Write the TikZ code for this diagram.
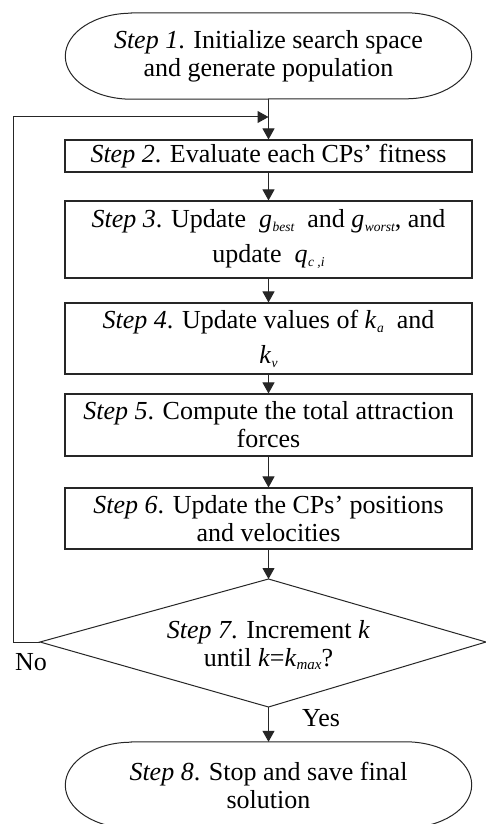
\documentclass[tikz,border=0pt]{standalone}
\usepackage{fontspec}
\setmainfont{Liberation Serif}
\usetikzlibrary{arrows.meta}

% italic variable with a small italic subscript
\newcommand\isub[2]{\textit{#1}\kern0.4pt\raisebox{-4pt}{\fontsize{13.5}{13.5}\selectfont\itshape #2}}

% terminal outline: flat top and bottom with elliptical ends
\newcommand\termoutline[1]{%
  \draw[edge] ([xshift=66pt]#1.north west) -- ([xshift=-66pt]#1.north east)
    arc[start angle=90, end angle=-90, x radius=66pt, y radius=43pt]
    -- ([xshift=66pt]#1.south west)
    arc[start angle=270, end angle=90, x radius=66pt, y radius=43pt] -- cycle;}

\begin{document}
\begin{tikzpicture}[x=1pt,y=-1pt,
  every node/.style={font=\fontsize{26}{28}\selectfont, align=center, inner sep=0pt, text=black},
  stepbox/.style={draw=black!85, line width=1.1pt, minimum width=407pt},
  termbox/.style={minimum width=406pt, minimum height=86pt},
  edge/.style={draw=black!85, line width=1pt},
  flow/.style={edge, -{Triangle[length=11pt,width=12pt]}},
  lbl/.style={font=\fontsize{26}{28}\selectfont}
]
\useasboundingbox (0,0) rectangle (486,824);
\fill[white] (0,0) rectangle (486,824);

% steps
\node[termbox] (s1) at (268.5,56) {\textit{Step 1}. Initialize search space\\and generate population};
\termoutline{s1}

\node[stepbox, minimum height=32pt] (s2) at (268.5,156)
  {\textit{Step 2}. Evaluate each CPs' fitness};
\node[stepbox, minimum height=77pt] (s3) at (268.5,239.5)
  {\textit{Step 3}. Update \ \isub{g}{best}\ \ and \isub{g}{worst}, and\\[7pt]update \ \isub{q}{c ,i}};
\node[stepbox, minimum height=71pt] (s4) at (268.5,338.5)
  {\textit{Step 4}. Update values of \isub{k}{a}\ \ and\\[7pt]\isub{k}{v}};
\node[stepbox, minimum height=62pt] (s5) at (268.5,425)
  {\textit{Step 5}. Compute the total attraction\\forces};
\node[stepbox, minimum height=61pt] (s6) at (268.5,518.5)
  {\textit{Step 6}. Update the CPs' positions\\and velocities};

% decision diamond
\coordinate (dtop) at (268.5,579);
\coordinate (dright) at (486,642);
\coordinate (dbot) at (268.5,707);
\coordinate (dleft) at (40,642);
\draw[edge] (dtop) -- (dright) -- (dbot) -- (dleft) -- cycle;
\node (s7) at (268.5,645) {\textit{Step 7}. Increment \textit{k}\\until \textit{k}=\textit{k}\raisebox{-3pt}{\fontsize{15}{15}\selectfont\itshape max}?};

\node[termbox] (s8) at (268.5,785) {\textit{Step 8}. Stop and save final\\solution};
\termoutline{s8}

% connectors
\coordinate (join) at (268.5,117);
\coordinate (loopx) at (13,642);
\draw[flow] (s1.south) -- (s2.north);
\draw[flow] (dleft) -- (loopx) |- (join);
\draw[flow] (s2.south) -- (s3.north);
\draw[flow] (s3.south) -- (s4.north);
\draw[flow] (s4.south) -- (s5.north);
\draw[flow] (s5.south) -- (s6.north);
\draw[flow] (s6.south) -- (dtop);
\draw[flow] (dbot) -- (s8.north);

\node[lbl] (no) at (31,662) {No};
\node[lbl] (yes) at (321,718) {Yes};
\end{tikzpicture}
\end{document}
